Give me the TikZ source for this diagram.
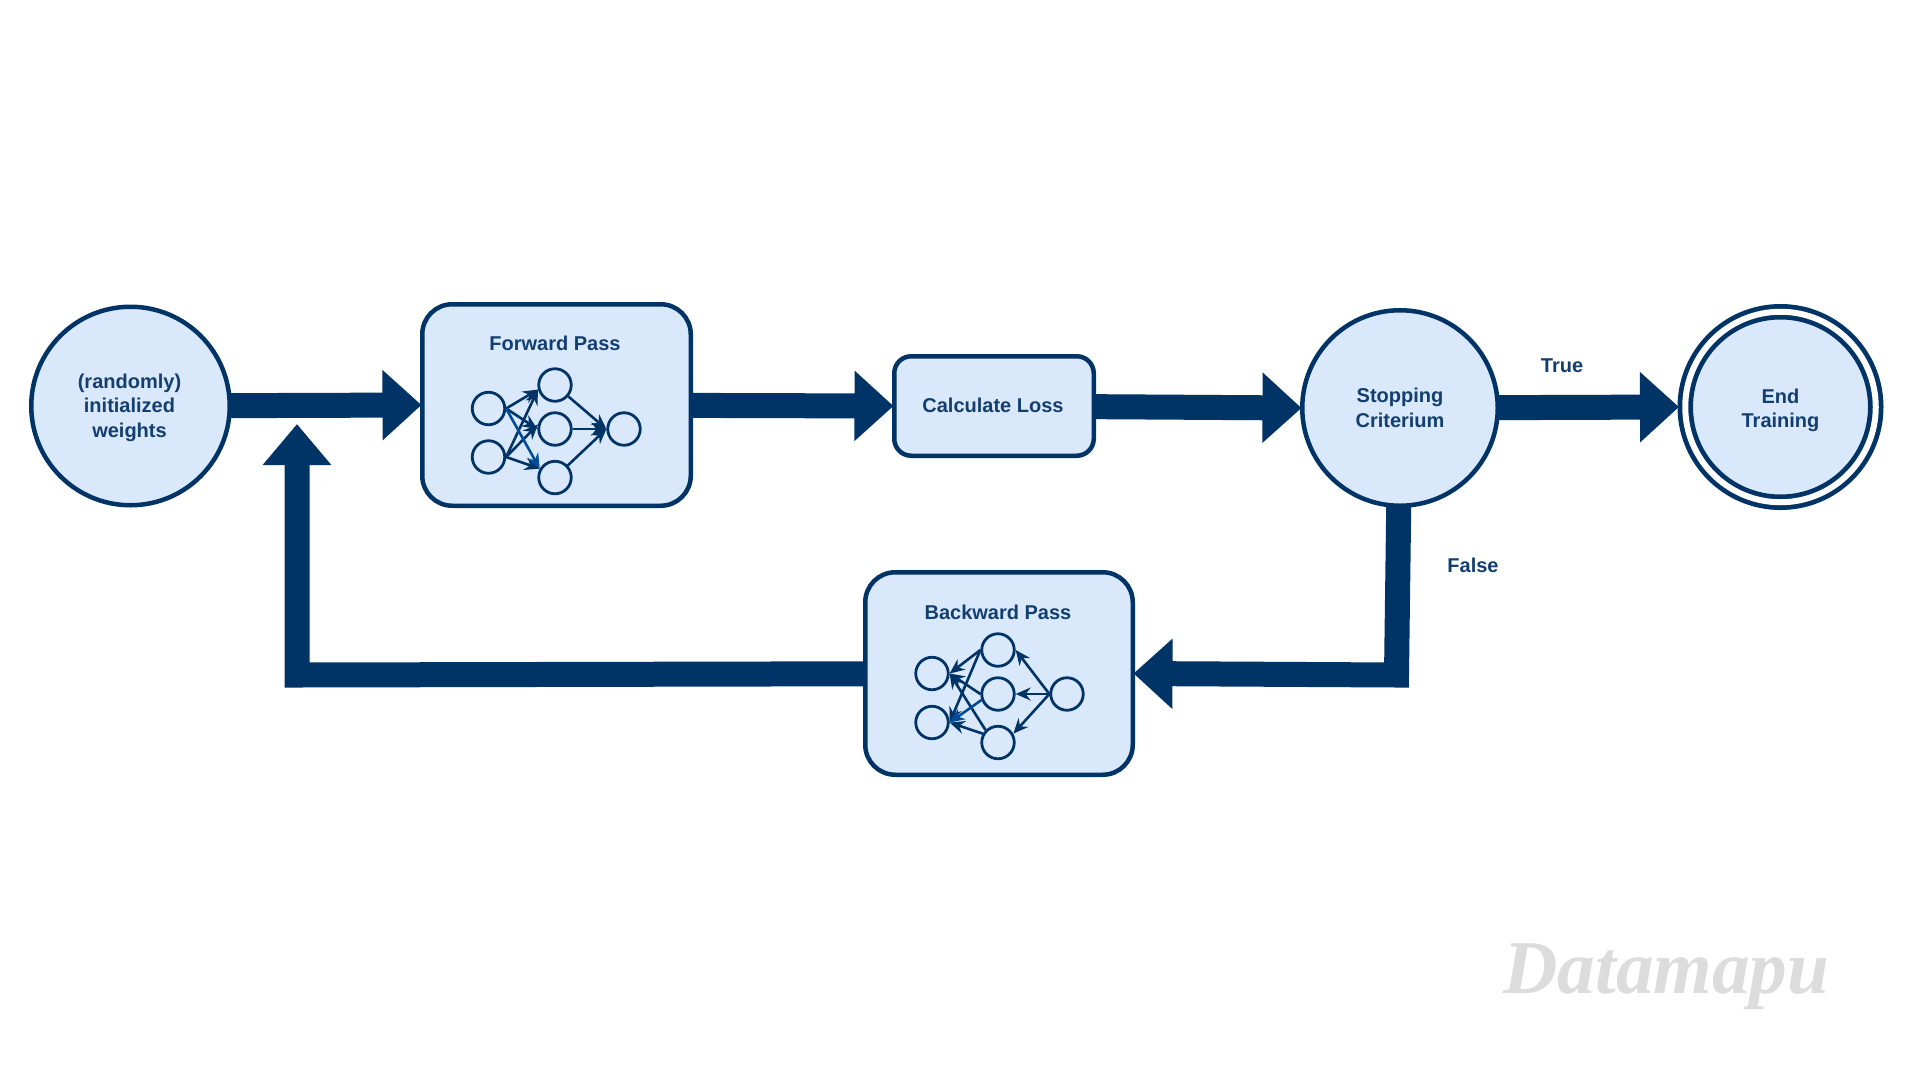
\documentclass[tikz,border=0pt]{standalone}
\usepackage{fontspec}
\setmainfont{Liberation Sans}
\newfontfamily\markfont{Liberation Serif}
\usetikzlibrary{arrows.meta}
\definecolor{navy}{HTML}{003366}
\definecolor{ink}{HTML}{123F70}
\definecolor{pale}{HTML}{DAE8FC}
\definecolor{bright}{HTML}{004C99}
\definecolor{mark}{HTML}{DCDCDC}
\pgfdeclarelayer{bg}
\pgfsetlayers{bg,main}
\tikzset{
  lab/.style={font=\fontsize{20}{24.5}\selectfont\bfseries,text=ink,align=center,inner sep=0pt},
  roundstate/.style={circle,draw=navy,fill=pale,line width=4.5pt,minimum size=#1,inner sep=0pt,lab},
  box/.style n args={3}{rectangle,draw=navy,fill=pale,line width=4.5pt,rounded corners=#3,minimum width=#1,minimum height=#2,inner sep=0pt,lab},
  neuron/.style={circle,draw=navy,line width=2.8pt,minimum size=32.5pt,inner sep=0pt},
  syn/.style={draw=navy,line width=2.6pt,-{Stealth[length=15pt,width=13pt,inset=5pt]}},
  synb/.style={syn,draw=bright,-{Stealth[length=15pt,width=13pt,inset=5pt,color=bright]}},
  flow/.style={draw=navy,line width=25pt,line join=miter,shorten >=-1.5pt,-{Triangle[length=39pt,width=68pt,color=navy]}}
}
\begin{document}
\begin{tikzpicture}[x=1pt,y=-1pt]
\useasboundingbox (0,0) rectangle (1920,1080);
\begin{pgfonlayer}{bg}
\fill[white] (0,0) rectangle (1920,1080);
\end{pgfonlayer}
% main states
\node[roundstate=198.5pt] (init) at (130.5,406) {};
\node[lab] (initlab) at (129.5,407.5) {(randomly)\\initialized\\weights};
\node[box={268.5pt}{201.5pt}{30pt}] (forward) at (556.5,405) {};
\node[box={199.5pt}{99.5pt}{17pt}] (calc) at (994,406) {};
\node[lab] (calclab) at (993,405) {Calculate Loss};
\node[roundstate=195.5pt] (stop) at (1400,408) {Stopping\\Criterium};
\node[roundstate=190.5pt,line width=4.75pt,double=white,double distance=6pt,outer sep=7.75pt] (end) at (1780.5,407) {};
\node[lab] (endlab) at (1780.5,410.5) {End\\Training};
\node[box={267.5pt}{202.5pt}{30pt}] (backward) at (999,673.5) {};
% titles
\node[lab] (ftitle) at (555,343.5) {Forward Pass};
\node[lab] (btitle) at (998,612) {Backward Pass};
% edge labels
\node[lab] (ltrue) at (1562,365.5) {True};
\node[lab] (lfalse) at (1473,565) {False};
% forward network
\node[neuron] (fa) at (488.5,408.5) {};
\node[neuron] (fb) at (488.5,457) {};
\node[neuron] (fc) at (555,385) {};
\node[neuron] (fd) at (555,429) {};
\node[neuron] (fe) at (555,477.5) {};
\node[neuron] (ff) at (624,429) {};
\draw[syn] (fa.east) -- (fc.195);
\draw[syn] (fa.east) -- (fd.west);
\draw[syn] (fb.east) -- (fc.195);
\draw[syn] (fb.east) -- (fd.165);
\draw[syn] (fb.east) -- (fe.150);
\draw[syn] (fc) -- (ff.west);
\draw[syn] (fd) -- (ff.west);
\draw[syn] (fe) -- (ff.west);
\draw[synb] (fa.east) -- (fe.150);
% backward network
\node[neuron] (ba) at (932,673.5) {};
\node[neuron] (bb) at (932,722.5) {};
\node[neuron] (bc) at (998,650) {};
\node[neuron] (bd) at (998,694) {};
\node[neuron] (be) at (998,742.5) {};
\node[neuron] (bf) at (1067,694) {};
\draw[syn] (bf.west) -- (bc.east);
\draw[syn] (bf.west) -- (bd.east);
\draw[syn] (bf.west) -- (be.30);
\draw[syn] (bc.west) -- (ba.east);
\draw[syn] (bc.west) -- (bb.east);
\draw[syn] (bd.west) -- (ba.east);
\draw[syn] (be.135) -- (ba.east);
\draw[syn] (be.150) -- (bb.east);
\draw[synb] (bd.200) -- (bb.east);
% flow connectors, behind the states
\coordinate (fbend) at (1396.5,675);
\coordinate (ubend) at (297,675);
\coordinate (utip) at (297,424);
\begin{pgfonlayer}{bg}
\draw[flow] (init.center) -- (forward.west);
\draw[flow] (forward.center) -- (calc.west);
\draw[flow] (calc.center) -- (stop.west);
\draw[flow] (stop.center) -- (end.west);
\draw[flow] (stop.center) -- (fbend) -- (backward.east);
\draw[flow,shorten >=0pt,-{Triangle[length=41pt,width=66pt,color=navy]}] (backward.center) -- (ubend) -- (utip);
\end{pgfonlayer}
% watermark
\node[text=mark,inner sep=0pt,anchor=base west] (wm) at (1503,993)
  {\scalebox{0.99}[1]{\markfont\fontsize{76}{76}\selectfont\bfseries\itshape Datamapu}};
\end{tikzpicture}
\end{document}
